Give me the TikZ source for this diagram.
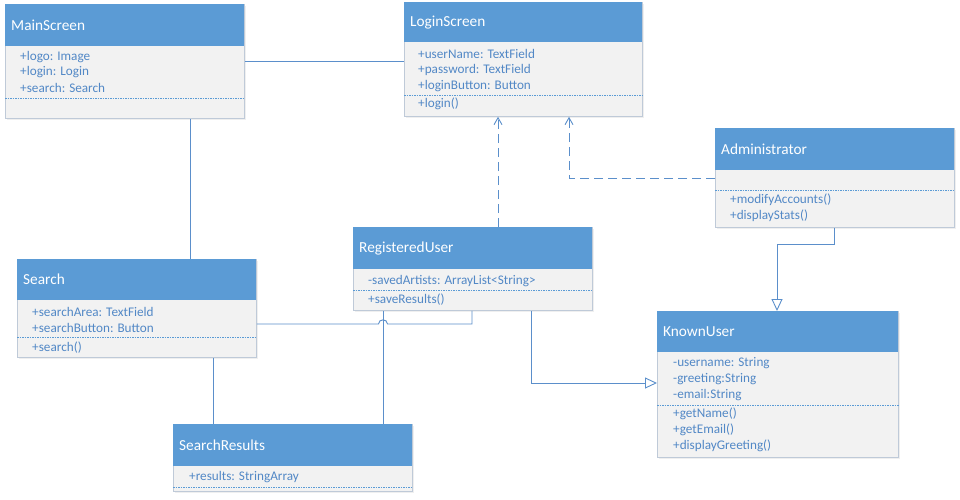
\documentclass[tikz,border=0pt]{standalone}
\usepackage{fontspec}
\setmainfont{Carlito}
\usetikzlibrary{arrows.meta,shadows}
\definecolor{hdr}{HTML}{5B9BD5}
\definecolor{bodyfill}{HTML}{F2F2F2}
\definecolor{bord}{HTML}{BFCAD8}
\definecolor{txt}{HTML}{5288C6}
\definecolor{lin}{HTML}{5B8FCB}
\tikzset{
  classbody/.style={draw=bord, fill=bodyfill, line width=0.8pt, inner sep=0pt,
    drop shadow={opacity=0.12, shadow xshift=1.2pt, shadow yshift=-1.5pt}},
  classhead/.style={fill=hdr, draw=none, inner sep=0pt},
  titletext/.style={text=white, font=\fontsize{15.3}{17}\selectfont, inner sep=0pt, anchor=west},
  attr/.style={text=txt, font=\fontsize{13.2}{15}\selectfont, inner sep=0pt, anchor=west},
  sep/.style={draw=hdr, line width=0.8pt, dash pattern=on 1.5pt off 1pt},
  conn/.style={draw=lin, line width=0.9pt},
  dep/.style={draw=lin, line width=0.9pt, dash pattern=on 9pt off 5pt, -{Straight Barb[length=7pt,width=8pt,line width=0.9pt]}},
  gen/.style={draw=lin, line width=0.9pt, -{Triangle[open,length=12pt,width=11pt,fill=white,line width=0.9pt]}},
}
\newcommand{\umlbox}[7]{%
  \node[classbody, minimum width=#4pt, minimum height=#5pt, anchor=north west] (#1) at (#2,#3) {};
  \node[classhead, minimum width=#4pt, minimum height=#6pt, anchor=north west] (#1h) at (#2,#3) {};
  \node[titletext] (#1t) at ([xshift=6pt]#1h.west) {#7};
}
\begin{document}
\begin{tikzpicture}[x=1pt,y=-1pt]
\useasboundingbox (0,0) rectangle (960,499);
\fill[white] (0,0) rectangle (960,499);

% MainScreen
\umlbox{ms}{5}{4}{239}{114}{42}{MainScreen}
\node[attr] (ms1) at ([xshift=15pt]ms.west |- 0,57) {+logo: Image};
\node[attr] (ms2) at ([xshift=15pt]ms.west |- 0,72.5) {+login: Login};
\node[attr] (ms3) at ([xshift=15pt]ms.west |- 0,88) {+search: Search};
\draw[sep] (ms.west |- 0,98) -- (ms.east |- 0,98);

% LoginScreen
\umlbox{ls}{404}{2}{238}{114}{40}{LoginScreen}
\node[attr] (ls1) at ([xshift=14pt]ls.west |- 0,54) {+userName: TextField};
\node[attr] (ls2) at ([xshift=14pt]ls.west |- 0,70) {+password: TextField};
\node[attr] (ls3) at ([xshift=14pt]ls.west |- 0,86) {+loginButton: Button};
\draw[sep] (ls.west |- 0,95) -- (ls.east |- 0,95);
\node[attr] (ls4) at ([xshift=14pt]ls.west |- 0,104) {+login()};

% Administrator
\umlbox{ad}{715}{128}{239}{99}{42}{Administrator}
\draw[sep] (ad.west |- 0,190) -- (ad.east |- 0,190);
\node[attr] (ad1) at ([xshift=15pt]ad.west |- 0,200) {+modifyAccounts()};
\node[attr] (ad2) at ([xshift=15pt]ad.west |- 0,215.5) {+displayStats()};

% Search
\umlbox{se}{17}{259}{239}{98}{41}{Search}
\node[attr] (se1) at ([xshift=15pt]se.west |- 0,312) {+searchArea: TextField};
\node[attr] (se2) at ([xshift=15pt]se.west |- 0,328) {+searchButton: Button};
\draw[sep] (se.west |- 0,337) -- (se.east |- 0,337);
\node[attr] (se3) at ([xshift=15pt]se.west |- 0,348) {+search()};

% RegisteredUser
\umlbox{ru}{353}{227}{239}{83}{42}{RegisteredUser}
\node[attr] (ru1) at ([xshift=15pt]ru.west |- 0,281) {-savedArtists: ArrayList<String>};
\draw[sep] (ru.west |- 0,290) -- (ru.east |- 0,290);
\node[attr] (ru2) at ([xshift=15pt]ru.west |- 0,300) {+saveResults()};

% KnownUser
\umlbox{ku}{657}{311}{241}{146}{41}{KnownUser}
\node[attr] (ku1) at ([xshift=16pt]ku.west |- 0,363) {-username: String};
\node[attr] (ku2) at ([xshift=16pt]ku.west |- 0,379) {-greeting:String};
\node[attr] (ku3) at ([xshift=16pt]ku.west |- 0,395) {-email:String};
\draw[sep] (ku.west |- 0,405) -- (ku.east |- 0,405);
\node[attr] (ku4) at ([xshift=16pt]ku.west |- 0,414) {+getName()};
\node[attr] (ku5) at ([xshift=16pt]ku.west |- 0,430) {+getEmail()};
\node[attr] (ku6) at ([xshift=16pt]ku.west |- 0,446) {+displayGreeting()};

% SearchResults
\umlbox{sr}{173}{424}{239}{67}{42}{SearchResults}
\node[attr] (sr1) at ([xshift=16pt]sr.west |- 0,477) {+results: StringArray};
\draw[sep] (sr.west |- 0,487) -- (sr.east |- 0,487);

% connectors
\coordinate (xa) at (190,0);
\coordinate (xb) at (213,0);
\coordinate (xc) at (383,0);
\coordinate (xd) at (472,0);
\coordinate (xe) at (498,0);
\coordinate (xf) at (569,0);
\coordinate (xg) at (531,0);
\coordinate (xh) at (834,0);
\coordinate (xi) at (777,0);

\draw[conn] (ms.east) -- (ms.east -| ls.west);
\draw[conn] (ms.south -| xa) -- (se.north -| xa);
\draw[conn] (se.south -| xb) -- (sr.north -| xb);
\draw[conn] (ru.south -| xc) -- (sr.north -| xc);
\draw[conn] (se.east |- 0,324) -- (378.5,324) .. controls (378.5,318.5) and (387.5,318.5) .. (387.5,324) -- (xd |- 0,324) -- (ru.south -| xd);
\draw[dep] (ru.north -| xe) -- (ls.south -| xe);
\draw[dep] (ad.west |- 0,178) -| (ls.south -| xf);
\draw[gen] (ad.south -| xh) |- (xi |- 0,244) -- (ku.north -| xi);
\draw[gen] (ru.south -| xg) |- (ku.west |- 0,383);
\end{tikzpicture}
\end{document}
